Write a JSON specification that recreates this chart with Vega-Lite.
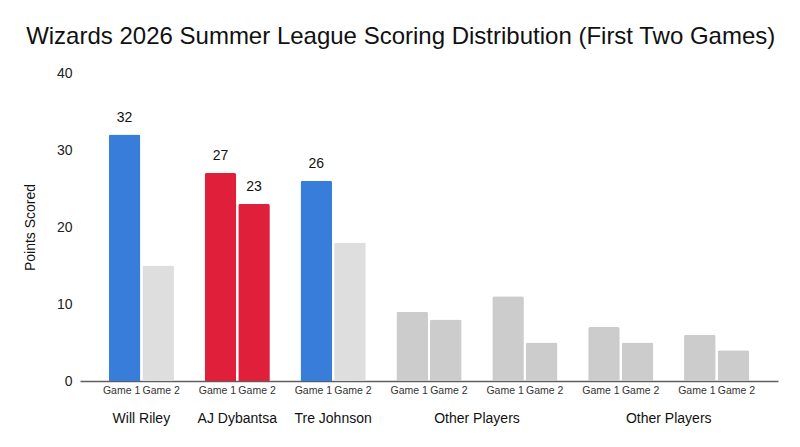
{
  "$schema": "https://vega.github.io/schema/vega-lite/v6.json",
  "width": 698,
  "height": 308,
  "autosize": {"type": "none"},
  "padding": {"left": 80, "top": 73, "right": 22, "bottom": 66},
  "background": "white",
  "title": {
    "text": "Wizards 2026 Summer League Scoring Distribution (First Two Games)",
    "font": "Liberation Sans",
    "fontSize": 24,
    "fontWeight": "normal",
    "color": "#111111",
    "anchor": "middle",
    "frame": "bounds",
    "offset": 17
  },
  "config": {
    "view": {"stroke": null},
    "font": "Liberation Sans"
  },
  "data": {
    "values": [
      {"slot": "Will Riley", "game": "Game 1", "points": 32, "tier": "Riley/Johnson G1"},
      {"slot": "Will Riley", "game": "Game 2", "points": 15, "tier": "Riley/Johnson G2"},
      {"slot": "AJ Dybantsa", "game": "Game 1", "points": 27, "tier": "Dybantsa"},
      {"slot": "AJ Dybantsa", "game": "Game 2", "points": 23, "tier": "Dybantsa"},
      {"slot": "Tre Johnson", "game": "Game 1", "points": 26, "tier": "Riley/Johnson G1"},
      {"slot": "Tre Johnson", "game": "Game 2", "points": 18, "tier": "Riley/Johnson G2"},
      {"slot": "Other Players 1", "game": "Game 1", "points": 9, "tier": "Other"},
      {"slot": "Other Players 1", "game": "Game 2", "points": 8, "tier": "Other"},
      {"slot": "Other Players 2", "game": "Game 1", "points": 11, "tier": "Other"},
      {"slot": "Other Players 2", "game": "Game 2", "points": 5, "tier": "Other"},
      {"slot": "Other Players 3", "game": "Game 1", "points": 7, "tier": "Other"},
      {"slot": "Other Players 3", "game": "Game 2", "points": 5, "tier": "Other"},
      {"slot": "Other Players 4", "game": "Game 1", "points": 6, "tier": "Other"},
      {"slot": "Other Players 4", "game": "Game 2", "points": 4, "tier": "Other"}
    ]
  },
  "encoding": {
    "x": {
      "field": "slot",
      "type": "nominal",
      "sort": null,
      "scale": {"paddingInner": 0.32, "paddingOuter": 0.3},
      "axis": {
        "title": null,
        "ticks": false,
        "labelAngle": 0,
        "labelFontSize": 14,
        "labelColor": "#111111",
        "labelPadding": 30,
        "domainColor": "#5f5f5f",
        "domainWidth": 1.5,
        "labelExpr": "datum.value == 'Other Players 1' || datum.value == 'Other Players 3' ? 'Other Players' : (indexof(datum.value, 'Other') == 0 ? '' : datum.value)",
        "labelOffset": {
          "condition": {"test": "datum.value == 'Other Players 1' || datum.value == 'Other Players 3'", "value": 48},
          "value": 0
        }
      }
    },
    "xOffset": {
      "field": "game",
      "type": "nominal",
      "scale": {"paddingInner": 0.06}
    }
  },
  "layer": [
    {
      "mark": {"type": "bar", "cornerRadiusTopLeft": 2, "cornerRadiusTopRight": 2},
      "encoding": {
        "y": {
          "field": "points",
          "type": "quantitative",
          "scale": {"domain": [0, 40]},
          "axis": {
            "title": "Points Scored",
            "titleFontSize": 14,
            "titleFontWeight": "normal",
            "titleColor": "#111111",
            "titlePadding": 19,
            "values": [0, 10, 20, 30, 40],
            "grid": false,
            "domain": false,
            "ticks": false,
            "labelFontSize": 14,
            "labelColor": "#222222",
            "labelPadding": 8
          }
        },
        "color": {
          "field": "tier",
          "type": "nominal",
          "scale": {
            "domain": ["Riley/Johnson G1", "Riley/Johnson G2", "Dybantsa", "Other"],
            "range": ["#377dd9", "#dedede", "#e0203b", "#cccccc"]
          },
          "legend": null
        }
      }
    },
    {
      "transform": [{"filter": "datum.tier == 'Riley/Johnson G1' || datum.tier == 'Dybantsa'"}],
      "mark": {"type": "text", "baseline": "bottom", "dy": -10, "fontSize": 14, "color": "#111111"},
      "encoding": {
        "y": {"field": "points", "type": "quantitative"},
        "text": {"field": "points", "type": "quantitative"}
      }
    },
    {
      "transform": [{"filter": "datum.game == 'Game 1'"}],
      "mark": {"type": "text", "baseline": "top", "dy": 5, "dx": -3, "fontSize": 10.5, "color": "#333333"},
      "encoding": {
        "y": {"datum": 0, "type": "quantitative"},
        "text": {"field": "game", "type": "nominal"}
      }
    },
    {
      "transform": [{"filter": "datum.game == 'Game 2'"}],
      "mark": {"type": "text", "baseline": "top", "dy": 5, "dx": 3, "fontSize": 10.5, "color": "#333333"},
      "encoding": {
        "y": {"datum": 0, "type": "quantitative"},
        "text": {"field": "game", "type": "nominal"}
      }
    }
  ]
}
